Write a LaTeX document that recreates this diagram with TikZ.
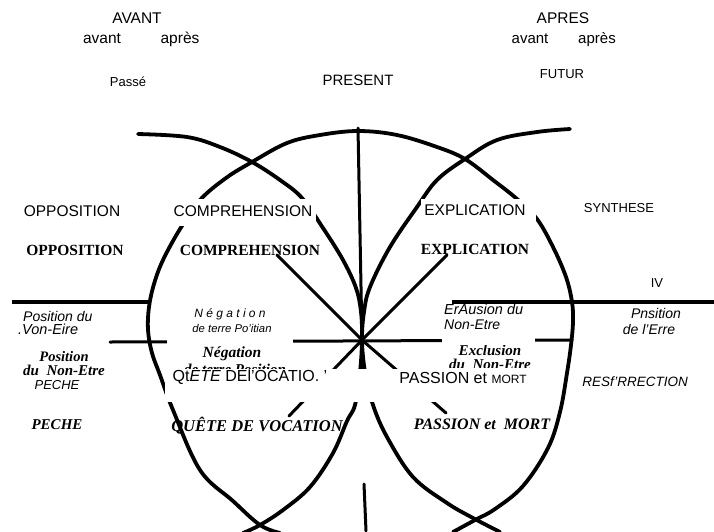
\documentclass[tikz,border=0pt]{standalone}
\usepackage{fontspec}
\setmainfont{Liberation Serif}
\setsansfont{Liberation Sans}
\newcommand{\ptsz}[1]{\fontsize{#1}{#1}\selectfont}

\begin{document}
\begin{tikzpicture}[x=1pt,y=-1pt,
	ink/.style={line width=3.8pt, line cap=round, line join=round},
	rule/.style={line width=3pt, line cap=round},
	ocr/.style={font=\sffamily, inner sep=0pt, anchor=base},
	ocri/.style={ocr, font=\sffamily\itshape},
	scan/.style={font=\rmfamily\bfseries\itshape, inner sep=0pt, anchor=base},
	scanup/.style={scan, font=\rmfamily\bfseries},
	mask/.style={fill=white}]
	\useasboundingbox (0,0) rectangle (714,531);
	\draw[ink] plot[smooth, tension=0.6] coordinates {(280,533) (260,525) (233,501) (200,470) (173,410) (160,375) (152,353) (148,330) (149,307) (154,284) (163,260) (180,229) (200,200) (226,178) (252,162) (287,143) (320,135) (358,131) (397,135) (437,147) (465,159) (493,180) (517,199) (537,219) (553,247) (566,277) (572,302) (573,322) (571,345) (567,373) (560,412) (548,448) (523,486) (495,509) (475,520) (453,532)};
	\draw[ink] plot[smooth, tension=0.6] coordinates {(138,134) (187,137) (220,147) (252,162) (280,180) (302,198) (323,228) (343,260) (356,288) (361,312) (362,340) (360,372) (355,405) (347,421) (333,453) (310,487) (283,510) (260,525) (243,533)};
	\draw[ink] plot[smooth, tension=0.6] coordinates {(570,129) (537,132) (497,140) (465,159) (437,180) (417,207) (390,247) (370,287) (364,312) (362,340) (365,372) (373,405) (387,437) (413,477) (447,503) (473,518) (500,532)};
	\coordinate (star) at (362,340);
	\draw[rule] (358,128) -- (star) -- (363,368);
	\draw[rule] (277,255) -- (star) -- (446,413);
	\draw[rule] (447,255) -- (star) -- (289,416);
	\draw[rule] (110,342) -- (572,340);
	\draw[rule] (364,484) -- (366,531);
	\draw[line width=4pt] (12,302) -- (150,302);
	\draw[line width=4pt] (452,302) -- (714,302);

	\node[scanup] (oppoS) at (75,255) {\ptsz{15.5}OPPOSITION};
	\node[scanup] (comprS) at (250,255) {\ptsz{15.5}COMPREHENSION};
	\node[scanup] (explS) at (475,254) {\ptsz{15.5}EXPLICATION};
	\node[scan] (posS) at (64,361) {\ptsz{14.5}Position};
	\node[scan] (nonS) at (64,375) {\ptsz{15}du\ \ Non-Etre};
	\node[scan] (pecheS) at (57,429) {\ptsz{15}PECHE};
	\node[scan] (negS) at (232,357) {\ptsz{15.5}Négation};
	\node[scan] (terreS) at (235,374) {\ptsz{15}de terre Position};
	\node[scan] (queteS) at (257,431) {\ptsz{16.5}QUÊTE DE VOCATION};
	\node[scan] (exclS) at (490,355) {\ptsz{15}Exclusion};
	\node[scan] (nonS2) at (490,369) {\ptsz{15}du\ \ Non-Etre};
	\node[scan] (passS) at (482,429) {\ptsz{16}PASSION et\ \ MORT};

	\fill[mask] (170,199) rectangle (316,226);
	\fill[mask] (421,199) rectangle (536,224);
	\fill[mask] (167,304) rectangle (293,344);
	\fill[mask] (442,306) rectangle (535,345);
	\fill[mask] (165,369) rectangle (398,402);
	\fill[mask] (398,368) rectangle (532,402);

	\node[ocr] (avant) at (137,23) {\ptsz{15.5}AVANT};
	\node[ocr] (avA) at (102,43) {\ptsz{15.5}avant};
	\node[ocr] (apA) at (180,43) {\ptsz{15.5}après};
	\node[ocr] (passe) at (128,86) {\ptsz{13}Passé};
	\node[ocr] (present) at (358,85) {\ptsz{15}PRESENT};
	\node[ocr] (apres) at (563,23) {\ptsz{15.5}APRES};
	\node[ocr] (avB) at (530,43) {\ptsz{15}avant};
	\node[ocr] (apB) at (597,43) {\ptsz{15}après};
	\node[ocr] (futur) at (562,78) {\ptsz{13}FUTUR};
	\node[ocr] (oppo) at (72,216) {\ptsz{15.5}OPPOSITION};
	\node[ocr] (compr) at (243,216) {\ptsz{15.5}COMPREHENSION};
	\node[ocr] (expl) at (475,215) {\ptsz{15.5}EXPLICATION};
	\node[ocr] (synth) at (619,212) {\ptsz{13}SYNTHESE};
	\node[ocr] (iv) at (657,287) {\ptsz{13}IV};
	\node[ocri, anchor=base west] (posA) at (23,321) {\ptsz{14}Position du};
	\node[ocri, anchor=base west] (vonA) at (18,334) {\ptsz{14.5}.Von-Eire};
	\node[ocri] (pecheA) at (57,389) {\ptsz{13}PECHE};
	\node[ocri] (negA) at (230,317) {\ptsz{12}N é g a t i o n};
	\node[ocri] (terreA) at (232,332) {\ptsz{11.3}de terre Po'itian};
	\node[ocr] (queteA) at (250,381) {\ptsz{16}Qt\textit{ETE} DEl'OCATIO. '};
	\node[ocri, anchor=base west] (exclA) at (444,314) {\ptsz{14.5}ErAusion du};
	\node[ocri, anchor=base west] (nonA) at (444,329) {\ptsz{14}Non-Etre};
	\node[ocr] (passA) at (463,383) {\ptsz{16}PASSION et {\ptsz{12}MORT}};
	\node[ocri] (posB) at (656,318) {\ptsz{14}Pnsition};
	\node[ocri] (erreB) at (649,334) {\ptsz{14}de l'Erre};
	\node[ocri] (resur) at (635,386) {\ptsz{13.5}RESf'RRECTION};
\end{tikzpicture}
\end{document}
